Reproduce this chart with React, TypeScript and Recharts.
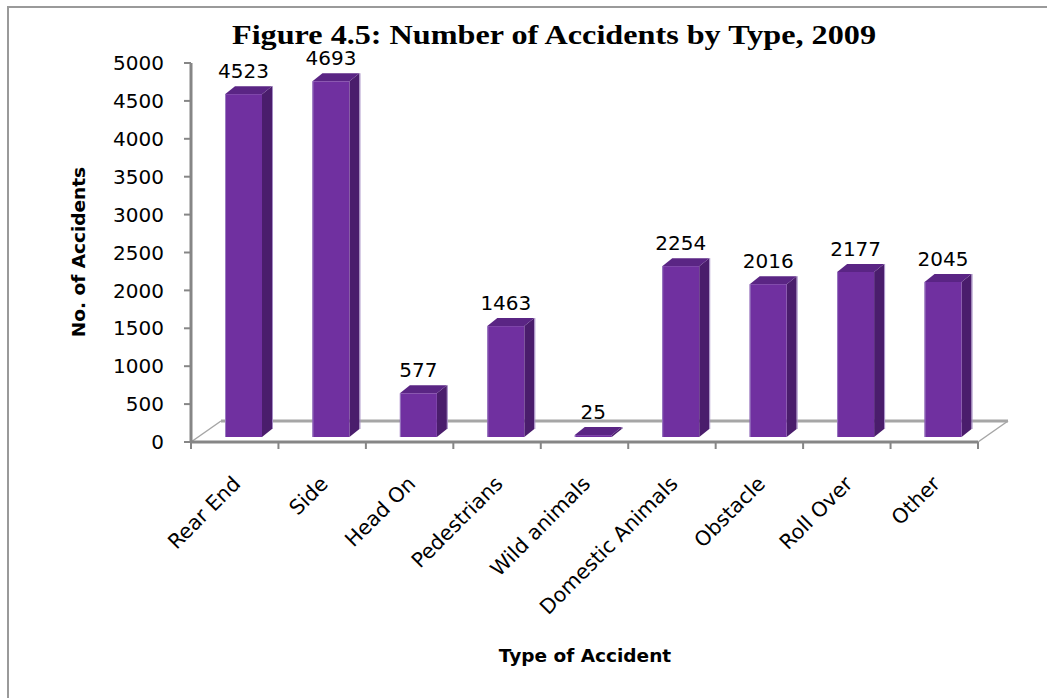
import React from 'react';
import { BarChart, Bar, XAxis, YAxis, LabelList } from 'recharts';

const categories = ['Rear End', 'Side', 'Head On', 'Pedestrians', 'Wild animals', 'Domestic Animals', 'Obstacle', 'Roll Over', 'Other'];
const accidents = [4523, 4693, 577, 1463, 25, 2254, 2016, 2177, 2045];
const yTicks = [0, 500, 1000, 1500, 2000, 2500, 3000, 3500, 4000, 4500, 5000];

const chartTitle = 'Figure 4.5: Number of Accidents by Type, 2009';
const yTitle = 'No. of Accidents';
const xTitle = 'Type of Accident';

const data = categories.map((type, i) => ({ type, count: accidents[i] }));

// layout constants
const W = 1047;
const H = 698;
const PLOT_LEFT = 191;
const PLOT_RIGHT = 978;
const PLOT_TOP = 63;
const PLOT_BOTTOM = 442;
const X_AXIS_H = 150;
const BAND = (PLOT_RIGHT - PLOT_LEFT) / categories.length;
const SHIFT_X = 9; // 3D bar offset toward floor depth
const SHIFT_Y = 5;
const DEPTH_X = 10;
const DEPTH_Y = 8;
const FLOOR_DX = 30;
const FLOOR_DY = 21;

const FRONT = '#7030A0';
const SIDE = '#4A1D6C';
const TOP = '#5A2584';
const AXIS = '#868686';
const TEXT_FONT = '"DejaVu Sans", Verdana, sans-serif';

const Bar3D = (props: any) => {
  const { x, y, width, height } = props;
  if (x == null || y == null) return null;
  const fx = x + SHIFT_X;
  const top = y - SHIFT_Y;
  const bottom = y + height - SHIFT_Y;
  const w = width;
  return (
    <g>
      <polygon
        points={`${fx + w},${bottom} ${fx + w + DEPTH_X},${bottom - DEPTH_Y} ${fx + w + DEPTH_X},${top - DEPTH_Y} ${fx + w},${top}`}
        fill={SIDE}
      />
      <polygon
        points={`${fx},${top} ${fx + DEPTH_X},${top - DEPTH_Y} ${fx + w + DEPTH_X},${top - DEPTH_Y} ${fx + w},${top}`}
        fill={TOP}
      />
      <rect x={fx} y={top} width={w} height={Math.max(bottom - top, 0)} fill={FRONT} />
      <line x1={fx + w + DEPTH_X + 0.5} y1={bottom - DEPTH_Y} x2={fx + w + DEPTH_X + 0.5} y2={top - DEPTH_Y} stroke="#A48CC4" strokeWidth={1} />
      <line x1={fx + 0.5} y1={top} x2={fx + 0.5} y2={bottom} stroke="#9A7BC0" strokeWidth={1} />
    </g>
  );
};

const ValueLabel = (props: any) => {
  const { x, y, width, value } = props;
  if (x == null || y == null) return null;
  return (
    <text
      x={x + SHIFT_X + width / 2}
      y={y - SHIFT_Y - 16}
      textAnchor="middle"
      fontFamily={TEXT_FONT}
      fontSize={20}
      fill="#000"
    >
      {value}
    </text>
  );
};

const XTick = (props: any) => {
  const { x, payload } = props;
  return (
    <g transform={`translate(${x + 7},${PLOT_BOTTOM + 43})`}>
      <text transform="rotate(-45)" textAnchor="end" fontFamily={TEXT_FONT} fontSize={20.5} fill="#000">
        {payload.value}
      </text>
    </g>
  );
};

const Background = () => {
  const ticks = [];
  for (let i = 0; i <= categories.length; i++) {
    const tx = PLOT_LEFT + i * BAND;
    ticks.push(<line key={i} x1={tx} y1={PLOT_BOTTOM} x2={tx} y2={PLOT_BOTTOM + 7} stroke={AXIS} strokeWidth={2} />);
  }
  return (
    <svg width={W} height={H} style={{ position: 'absolute', left: 0, top: 0 }}>
      <rect x={8} y={7} width={W + 20} height={H + 20} fill="#fff" stroke="#9A9A9A" strokeWidth={2} />
      <line x1={PLOT_LEFT + FLOOR_DX} y1={PLOT_BOTTOM - FLOOR_DY} x2={PLOT_RIGHT + FLOOR_DX} y2={PLOT_BOTTOM - FLOOR_DY} stroke="#A6A6A6" strokeWidth={3} />
      <line x1={PLOT_LEFT} y1={PLOT_BOTTOM} x2={PLOT_LEFT + FLOOR_DX} y2={PLOT_BOTTOM - FLOOR_DY} stroke="#A6A6A6" strokeWidth={1.5} />
      <line x1={PLOT_RIGHT} y1={PLOT_BOTTOM} x2={PLOT_RIGHT + FLOOR_DX} y2={PLOT_BOTTOM - FLOOR_DY} stroke="#A6A6A6" strokeWidth={1.5} />
      {ticks}
      <text
        x={554}
        y={44}
        textAnchor="middle"
        fontFamily='"Liberation Serif", "Times New Roman", serif'
        fontWeight="bold"
        fontSize={27}
        textLength={644}
        lengthAdjust="spacingAndGlyphs"
        fill="#000"
      >
        {chartTitle}
      </text>
      <text
        transform="translate(85,252) rotate(-90)"
        textAnchor="middle"
        fontFamily={TEXT_FONT}
        fontWeight="bold"
        fontSize={18.5}
        fill="#000"
      >
        {yTitle}
      </text>
      <text x={585} y={662} textAnchor="middle" fontFamily={TEXT_FONT} fontWeight="bold" fontSize={18.5} fill="#000">
        {xTitle}
      </text>
    </svg>
  );
};

export default function App() {
  return (
    <div style={{ position: 'absolute', left: 0, top: 0, width: W, height: H, overflow: 'hidden', background: '#fff' }}>
      <Background />
      <div style={{ position: 'absolute', left: 0, top: 0 }}>
        <BarChart
          width={W}
          height={H}
          data={data}
          margin={{ top: PLOT_TOP, right: W - PLOT_RIGHT, bottom: H - PLOT_BOTTOM - X_AXIS_H, left: 0 }}
        >
          <XAxis
            dataKey="type"
            height={X_AXIS_H}
            interval={0}
            tickLine={false}
            axisLine={{ stroke: AXIS, strokeWidth: 3 }}
            tick={<XTick />}
          />
          <YAxis
            width={PLOT_LEFT}
            domain={[0, 5000]}
            ticks={yTicks}
            interval={0}
            tickSize={7}
            tickMargin={20}
            tickLine={{ stroke: AXIS, strokeWidth: 2 }}
            axisLine={{ stroke: AXIS, strokeWidth: 3 }}
            tick={{ fontFamily: TEXT_FONT, fontSize: 20, fill: '#000' }}
          />
          <Bar dataKey="count" barSize={37} shape={<Bar3D />} isAnimationActive={false}>
            <LabelList dataKey="count" content={<ValueLabel />} />
          </Bar>
        </BarChart>
      </div>
    </div>
  );
}
